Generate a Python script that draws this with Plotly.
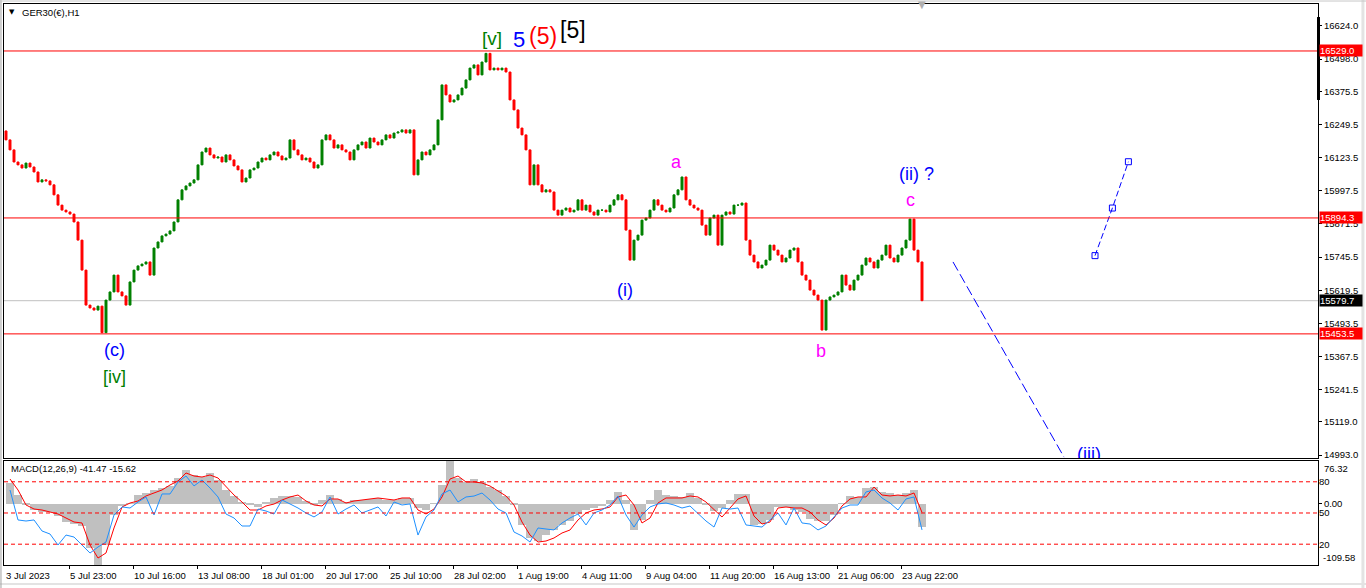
import plotly.graph_objects as go

# ---------------- data ----------------
closes = [16191, 16153, 16107, 16096, 16084, 16103, 16088, 16069, 16031, 16039,
          16035, 16020, 15982, 15943, 15924, 15917, 15909, 15879, 15810, 15696,
          15563, 15552, 15544, 15559, 15458, 15582, 15613, 15677, 15613, 15598,
          15563, 15651, 15696, 15712, 15719, 15727, 15677, 15780, 15803, 15826,
          15833, 15845, 15879, 15963, 16001, 16016, 16027, 16039, 16096, 16145,
          16160, 16134, 16122, 16126, 16107, 16134, 16115, 16092, 16077, 16031,
          16046, 16077, 16084, 16107, 16122, 16115, 16134, 16145, 16130, 16115,
          16122, 16191, 16153, 16134, 16115, 16122, 16107, 16084, 16096, 16191,
          16210, 16191, 16160, 16172, 16153, 16145, 16115, 16153, 16172, 16183,
          16160, 16198, 16183, 16172, 16191, 16210, 16198, 16217, 16221, 16229,
          16217, 16229, 16058, 16115, 16145, 16134, 16153, 16172, 16267, 16400,
          16362, 16335, 16343, 16362, 16388, 16419, 16464, 16476, 16438, 16487,
          16520, 16457, 16464, 16457, 16464, 16449, 16343, 16305, 16236, 16210,
          16153, 16020, 16096, 16020, 15993, 16001, 15993, 15924, 15905, 15924,
          15932, 15917, 15924, 15963, 15924, 15943, 15917, 15905, 15924, 15924,
          15917, 15943, 15963, 15982, 15963, 15848, 15734, 15810, 15829, 15886,
          15894, 15924, 15963, 15943, 15924, 15917, 15932, 15982, 16001, 16050,
          15963, 15943, 15932, 15924, 15867, 15829, 15894, 15905, 15791, 15905,
          15917, 15909, 15943, 15943, 15951, 15810, 15753, 15727, 15704, 15715,
          15734, 15791, 15772, 15753, 15727, 15742, 15772, 15780, 15727, 15677,
          15658, 15620, 15601, 15582, 15468, 15582, 15594, 15601, 15613, 15677,
          15639, 15620, 15658, 15677, 15715, 15742, 15727, 15704, 15734, 15753,
          15791, 15742, 15727, 15753, 15780, 15810, 15890, 15772, 15727, 15579.7]
first_open = 16225

macd_hist = [37.0, 15.5, -2.3, -11.3, -14.8, -14.8, -22.0, -32.7, -36.3, -39.9,
             -79.2, -109.58, -73.8, -20.2, -4.1, 1.2, 15.5, 19.1, 24.5, 28.1,
             31.6, 45.9, 60.2, 51.3, 47.7, 54.9, 42.4, 24.5, 13.8, 3.0,
             -2.3, -5.9, 3.0, 10.2, 13.8, 13.8, 12.0, 4.8, -0.6, 6.6,
             15.5, 8.4, 3.0, 6.6, 6.6, 8.4, 10.2, 6.6, 6.6, 10.2,
             10.2, -7.7, -11.3, 1.2, 33.4, 76.32, 45.9, 38.8, 44.1, 38.8,
             29.8, 24.5, 13.8, -2.3, -38.1, -61.3, -66.7, -56.0, -47.0, -38.1,
             -30.9, -18.4, -11.3, -7.7, -4.1, 6.6, 20.9, 6.6, -47.0, -29.1,
             6.6, 24.5, 15.5, 13.8, 12.0, 19.1, 10.2, -2.3, -13.1, -7.7,
             6.6, 17.3, 17.3, -38.1, -36.3, -29.1, -5.9, -5.9, -11.3, -14.8,
             -27.4, -30.9, -30.9, -20.2, 1.2, 13.8, 12.0, 28.1, 29.8, 20.9,
             19.1, 15.5, 19.1, 24.5, -41.47]

macd_signal = [44.1, 24.5, -2.3, -9.5, -11.3, -14.8, -18.4, -25.6, -32.7, -34.5,
               -73.8, -97.1, -88.1, -43.4, -5.9, 1.2, 4.8, 13.8, 19.1, 24.5,
               33.4, 40.6, 54.9, 49.5, 47.7, 51.3, 45.9, 29.8, 15.5, 3.0,
               -11.3, -11.3, -4.1, -0.6, 6.6, 12.0, 15.5, 4.8, -2.3, -4.1,
               8.4, 8.4, 1.2, 4.8, 6.6, 8.4, 10.2, 8.4, 6.6, 10.2,
               10.2, -11.3, -18.4, -9.5, 12.0, 44.1, 49.5, 38.8, 38.8, 37.0,
               31.6, 22.7, 13.8, -2.3, -32.7, -56.0, -68.5, -66.7, -61.3, -52.4,
               -47.0, -29.1, -16.6, -11.3, -9.5, -5.9, 12.0, 15.5, -2.3, -34.5,
               -25.6, 1.2, 10.2, 10.2, 10.2, 13.8, 12.0, 3.0, -11.3, -23.8,
               -7.7, 8.4, 13.8, -22.0, -36.3, -32.7, -7.7, -5.9, -7.7, -7.7,
               -14.8, -29.1, -38.1, -25.6, -4.1, 8.4, 12.0, 12.0, 29.8, 15.5,
               13.8, 15.5, 13.8, 19.1, -15.62]

osc = [72.1, 43.3, 42.3, 43.3, 32.7, 29.8, 19.2, 28.8, 26.9, 19.2,
       11.5, 17.3, 22.1, 48.1, 55.8, 54.8, 60.6, 65.4, 48.1, 68.3,
       68.3, 79.8, 85.6, 76.0, 81.7, 74.0, 65.4, 49.0, 45.2, 37.5,
       37.5, 53.8, 51.9, 49.0, 62.5, 58.7, 54.8, 50.0, 46.2, 51.0,
       65.4, 49.0, 53.8, 57.7, 50.0, 52.9, 55.8, 47.1, 60.6, 57.7,
       58.7, 28.8, 46.2, 52.9, 68.3, 72.1, 60.6, 65.4, 66.3, 69.2,
       62.5, 53.8, 50.0, 31.7, 27.9, 22.1, 35.6, 34.6, 33.7, 40.4,
       45.2, 49.0, 38.5, 50.0, 52.9, 57.7, 66.3, 48.1, 36.5, 48.1,
       55.8, 58.7, 59.6, 57.7, 54.8, 56.7, 49.0, 42.3, 36.5, 54.8,
       53.8, 54.8, 38.5, 37.5, 36.5, 43.3, 50.0, 38.5, 54.8, 40.4,
       39.4, 33.7, 37.5, 46.2, 54.8, 57.7, 57.7, 70.2, 72.1, 64.4,
       59.6, 52.9, 63.5, 65.4, 33.7]

level_lines = [16529.0, 15894.3, 15453.5]
bid_price = 15579.7
osc_levels = [80, 50, 20]

price_ticks = [16624.0, 16498.0, 16375.5, 16249.5, 16123.5, 15997.5, 15871.5,
               15745.5, 15619.5, 15493.5, 15367.5, 15241.5, 15119.0, 14993.0]

date_labels = ["3 Jul 2023", "5 Jul 23:00", "10 Jul 16:00", "13 Jul 08:00",
               "18 Jul 01:00", "20 Jul 17:00", "25 Jul 10:00", "28 Jul 02:00",
               "1 Aug 19:00", "4 Aug 11:00", "9 Aug 04:00", "11 Aug 20:00",
               "16 Aug 13:00", "21 Aug 06:00", "23 Aug 22:00"]
date_bars = [-0.25, 15.75, 31.75, 47.75, 63.75, 79.75, 95.75, 111.75,
             127.75, 143.75, 159.75, 175.75, 191.75, 207.75, 223.75]

wave_labels = [
    ("[v]", 121.5, 16578, "#008000", 19),
    ("5", 128.25, 16574, "#0000FF", 22),
    ("(5)", 134.25, 16586, "#FF0000", 23),
    ("[5]", 141.75, 16609, "#000000", 23),
    ("(c)", 27.0, 15392, "#0000FF", 18),
    ("[iv]", 27.0, 15289, "#008000", 18),
    ("(i)", 154.75, 15620, "#0000FF", 18),
    ("a", 167.5, 16107, "#FF00FF", 18),
    ("b", 203.75, 15388, "#FF00FF", 18),
    ("c", 226.0, 15962, "#FF00FF", 18),
    ("(ii) ?", 227.5, 16061, "#0000FF", 18),
]
wave_iii = ("(iii)", 270.75, 14993)

proj_down_bars = [236.75, 264.5]
proj_down_prices = [15727, 14985]
proj_up_bars = [272.25, 276.6, 280.6]
proj_up_prices = [15751, 15932, 16108]

# ---------------- build ----------------
bars = list(range(len(closes)))
opens = [first_open] + closes[:-1]
highs = [max(o, c) for o, c in zip(opens, closes)]
lows = [min(o, c) for o, c in zip(opens, closes)]
ind_bars = list(range(1, len(closes), 2))

FONT = "Liberation Sans"
X0, X1 = -0.5, 328

fig = go.Figure()

fig.add_trace(go.Candlestick(
    x=bars, open=opens, high=highs, low=lows, close=closes,
    increasing=dict(line=dict(color="#008000", width=1), fillcolor="#008000"),
    decreasing=dict(line=dict(color="#FF0000", width=1), fillcolor="#FF0000"),
    xaxis="x", yaxis="y", showlegend=False, hoverinfo="skip"))

fig.add_trace(go.Scatter(
    x=proj_down_bars, y=proj_down_prices, mode="lines",
    line=dict(color="#0000FF", width=1, dash="10px,4px"),
    xaxis="x", yaxis="y", showlegend=False, hoverinfo="skip"))

fig.add_trace(go.Scatter(
    x=proj_up_bars, y=proj_up_prices, mode="lines+markers",
    line=dict(color="#0000FF", width=1, dash="6px,3px"),
    marker=dict(symbol="square-open", size=6, color="#0000FF", line=dict(width=1)),
    xaxis="x", yaxis="y", showlegend=False, hoverinfo="skip"))

fig.add_trace(go.Scatter(
    x=[wave_iii[1]], y=[wave_iii[2]], mode="text", text=[wave_iii[0]],
    textfont=dict(family=FONT, size=18, color="#0000FF"), cliponaxis=True,
    xaxis="x", yaxis="y", showlegend=False, hoverinfo="skip"))

fig.add_trace(go.Bar(
    x=ind_bars, y=macd_hist, width=2, marker=dict(color="#C0C0C0", line=dict(width=0)),
    xaxis="x2", yaxis="y2", showlegend=False, hoverinfo="skip"))
fig.add_trace(go.Scatter(
    x=ind_bars, y=macd_signal, mode="lines", line=dict(color="#FF0000", width=1),
    xaxis="x2", yaxis="y2", showlegend=False, hoverinfo="skip"))
fig.add_trace(go.Scatter(
    x=ind_bars, y=osc, mode="lines", line=dict(color="#1E90FF", width=1),
    xaxis="x2", yaxis="y3", showlegend=False, hoverinfo="skip"))

shapes = []
for lv in level_lines:
    shapes.append(dict(type="line", xref="paper", x0=0, x1=1, yref="y", y0=lv, y1=lv,
                       line=dict(color="#FF0000", width=1)))
shapes.append(dict(type="line", xref="paper", x0=0, x1=1, yref="y", y0=bid_price, y1=bid_price,
                   line=dict(color="#C0C0C0", width=1), layer="below"))
for lv in osc_levels:
    shapes.append(dict(type="line", xref="paper", x0=0, x1=1, yref="y3", y0=lv, y1=lv,
                       line=dict(color="#FF0000", width=1, dash="4px,3px")))
# right scale drag bar and window frame
shapes.append(dict(type="line", xref="paper", x0=1.0004, x1=1.0004, yref="paper",
                   y0=0.8289, y1=0.9768, line=dict(color="black", width=3)))
shapes.append(dict(type="line", xref="paper", x0=1.0342, x1=1.0342, yref="paper",
                   y0=-0.05, y1=1.01, line=dict(color="#E3E3E3", width=3)))
shapes.append(dict(type="line", xref="paper", x0=-0.01, x1=1.04, yref="paper",
                   y0=-0.0339, y1=-0.0339, line=dict(color="#E3E3E3", width=2)))
shapes.append(dict(type="line", xref="paper", x0=-0.0023, x1=-0.0023, yref="paper",
                   y0=-0.05, y1=1.01, line=dict(color="#A0A0A0", width=1)))
shapes.append(dict(type="line", xref="paper", x0=-0.01, x1=1.04, yref="paper",
                   y0=1.0053, y1=1.0053, line=dict(color="#C8C8C8", width=1)))

ann = []
for txt, bx, py, col, sz in wave_labels:
    ann.append(dict(x=bx, y=py, xref="x", yref="y", text=txt, showarrow=False,
                    font=dict(family=FONT, size=sz, color=col)))

# price tags on the right scale
for lv in level_lines:
    ann.append(dict(x=1, y=lv, xref="paper", yref="y", text=f"{lv:.1f}", showarrow=False,
                    xanchor="left", xshift=1, align="left", width=42, height=11,
                    bgcolor="#FF0000", font=dict(family=FONT, size=9.5, color="white"),
                    borderpad=0))
ann.append(dict(x=1, y=bid_price, xref="paper", yref="y", text=f"{bid_price:.1f}", showarrow=False,
                xanchor="left", xshift=1, align="left", width=42, height=11,
                bgcolor="#000000", font=dict(family=FONT, size=9.5, color="white"), borderpad=0))

# date labels (left aligned at tick)
for lab, bx in zip(date_labels, date_bars):
    ann.append(dict(x=bx, y=-0.0196, xref="x", yref="paper", text=lab, showarrow=False,
                    xanchor="left", yanchor="middle", xshift=-1,
                    font=dict(family=FONT, size=9.5, color="black")))

# header texts
ann.append(dict(x=0.0061, y=0.9855, xref="paper", yref="paper", text="▼", showarrow=False,
                xanchor="center", yanchor="middle", font=dict(family="DejaVu Sans", size=7, color="black")))
ann.append(dict(x=0.0118, y=0.9855, xref="paper", yref="paper", text="GER30(€),H1", showarrow=False,
                xanchor="left", yanchor="middle", font=dict(family=FONT, size=9.5, color="black")))
ann.append(dict(x=0.0038, y=0.1729, xref="paper", yref="paper",
                text=f"MACD(12,26,9) {macd_hist[-1]:.2f} {macd_signal[-1]:.2f}", showarrow=False,
                xanchor="left", yanchor="middle", font=dict(family=FONT, size=9.5, color="black")))
ann.append(dict(x=1.0030, y=0.1729, xref="paper", yref="paper", text=f"{max(macd_hist):.2f}",
                showarrow=False, xanchor="left", yanchor="middle",
                font=dict(family=FONT, size=9.5, color="black")))
ann.append(dict(x=1.0022, y=0.0125, xref="paper", yref="paper", text=f"{min(macd_hist):.2f}",
                showarrow=False, xanchor="left", yanchor="middle",
                font=dict(family=FONT, size=9.5, color="black")))
# chart shift marker
ann.append(dict(x=0.6986, y=1.0, xref="paper", yref="paper", text="▼", showarrow=False,
                xanchor="center", yanchor="middle", font=dict(family="DejaVu Sans", size=10, color="#B0B0B0")))

tickfont = dict(family=FONT, size=9.5, color="black")
fig.update_layout(
    width=1366, height=588,
    margin=dict(l=4, r=48, t=4, b=23),
    paper_bgcolor="white", plot_bgcolor="white",
    showlegend=False, bargap=0,
    xaxis=dict(domain=[0, 1], range=[X0, X1], anchor="y", showline=True, mirror=True,
               linecolor="black", linewidth=1, showgrid=False, zeroline=False,
               showticklabels=False, ticks="", rangeslider=dict(visible=False)),
    yaxis=dict(domain=[0.1907, 1], range=[14981.6, 16707.6], side="right", anchor="x",
               showline=True, mirror=True, linecolor="black", linewidth=1,
               tickvals=price_ticks, ticktext=[f"{v:.1f}" for v in price_ticks],
               ticks="outside", ticklen=3, tickcolor="black", tickfont=tickfont,
               showgrid=False, zeroline=False),
    xaxis2=dict(domain=[0, 1], range=[X0, X1], anchor="y2", showline=True, mirror=True,
                linecolor="black", linewidth=1, showgrid=False, zeroline=False,
                tickvals=date_bars[1:], ticks="outside", ticklen=3, tickcolor="black",
                showticklabels=False),
    yaxis2=dict(domain=[0, 0.1854], range=[-109.58, 76.32], side="right", anchor="x2",
                showline=True, mirror=True, linecolor="black", linewidth=1,
                tickvals=[0], ticktext=["0.00"], ticks="outside", ticklen=3,
                tickcolor="black", tickfont=tickfont, showgrid=False, zeroline=False),
    yaxis3=dict(overlaying="y2", range=[0, 100], side="right", anchor="x2",
                tickvals=osc_levels, ticktext=[str(v) for v in osc_levels], ticks="",
                tickfont=tickfont, showgrid=False, zeroline=False, showline=False),
    shapes=shapes, annotations=ann,
)

fig.write_html("out.html", config={"displayModeBar": False},
               post_script="document.body.style.margin='0px';document.body.style.overflow='hidden';")
